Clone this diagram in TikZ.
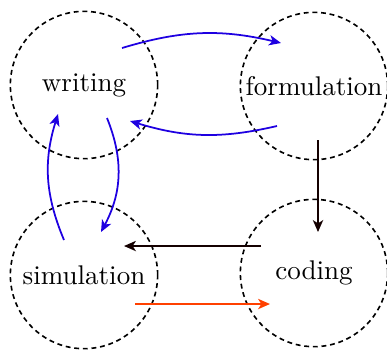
\documentclass[tikz,border=0pt]{standalone}
\usetikzlibrary{arrows.meta,calc}
\definecolor{myblue}{RGB}{30,0,225}
\definecolor{myorange}{RGB}{255,64,0}
\definecolor{mydark}{RGB}{20,0,0}
\begin{document}
\begin{tikzpicture}[x=0.37pt,y=-0.37pt,
  topic/.style={circle,draw,line width=0.6pt,dash pattern=on 1.8pt off 1.4pt,minimum size=54.5pt,inner sep=0pt},
  link/.style={line width=0.65pt,-{Stealth[length=4.4pt,width=3.8pt,inset=1.2pt]}}]
\useasboundingbox (0,0) rectangle (387,349);
\node[topic] (w) at (84,85) {writing};
\node[topic] (f) at (314,86) {formulation};
\node[topic] (s) at (84,275) {simulation};
\node[topic] (c) at (314,273) {coding};
\draw[link,myblue] ($(w)+(38,-37)$) to[bend left=15] ($(f)+(-33,-43)$);
\draw[link,myblue] ($(f)+(-37,40)$) to[bend left=15] ($(w)+(46,36)$);
\draw[link,myblue] ($(w)+(23,33)$) to[bend left=25] ($(s)+(17,-43)$);
\draw[link,myblue] ($(s)+(-20,-35)$) to[bend left=20] ($(w)+(-26,29)$);
\draw[link,mydark] ($(f)+(4,54)$) -- ($(c)+(4,-41)$);
\draw[link,mydark] ($(c)+(-53,-27)$) -- ($(s)+(40,-29)$);
\draw[link,myorange] ($(s)+(51,29)$) -- ($(c)+(-44,31)$);
\end{tikzpicture}
\end{document}
